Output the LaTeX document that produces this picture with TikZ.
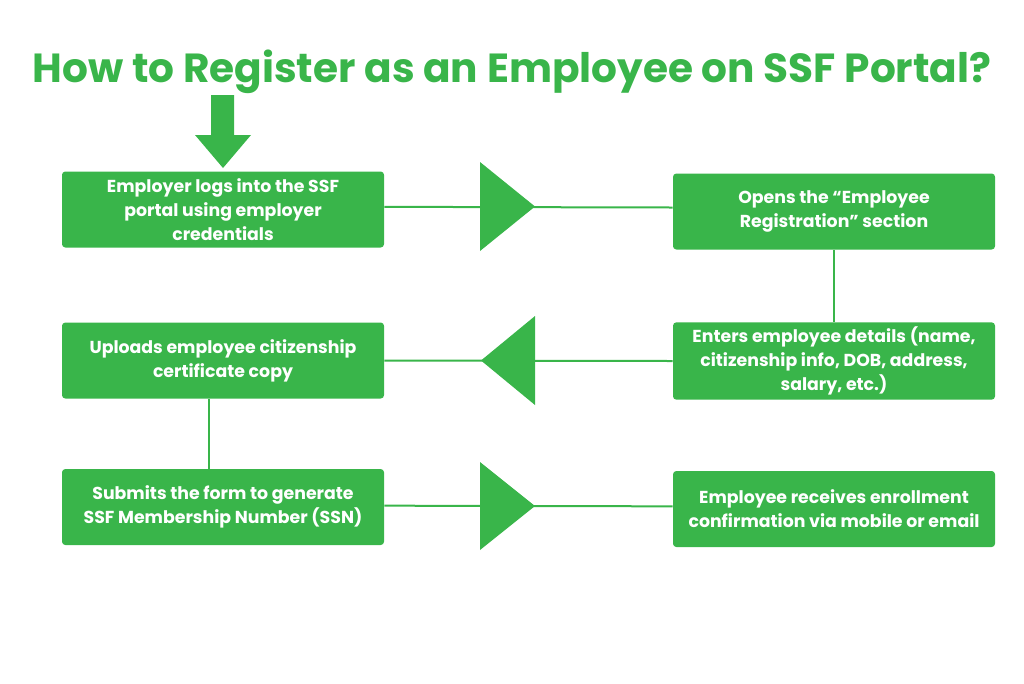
\documentclass[tikz,border=0pt]{standalone}
\usepackage{fontspec}
\setmainfont{Poppins}
\definecolor{ssf}{HTML}{39B54A}
\begin{document}
\begin{tikzpicture}[x=0.75pt,y=-0.75pt,
  box/.style={fill=ssf,rounded corners=2.5pt,minimum width=241.5pt,minimum height=57pt,align=center,text=white,font=\fontsize{13}{18}\selectfont\bfseries},
  con/.style={draw=ssf,line width=1.5pt},
  tri/.style={fill=ssf}]
\useasboundingbox (0,0) rectangle (1024,683);
\node[text=ssf,font=\bfseries] (title) at (512,72) {\resizebox{719pt}{!}{How to Register as an Employee on SSF Portal?}};
\fill[ssf] (211,95) -- (234,95) -- (234,135) -- (251,135) -- (223,168) -- (195,135) -- (211,135) -- cycle;
\node[box] (b1) at (223,209.5) {Employer logs into the SSF\\portal using employer\\credentials};
\node[box] (b2) at (834,211.5) {Opens the “Employee\\Registration” section};
\node[box] (b3) at (834,361) {Enters employee details (name,\\citizenship info, DOB, address,\\salary, etc.)};
\node[box] (b4) at (223,360.5) {Uploads employee citizenship\\certificate copy};
\node[box] (b5) at (223,507) {Submits the form to generate\\SSF Membership Number (SSN)};
\node[box] (b6) at (834,509) {Employee receives enrollment\\confirmation via mobile or email};
\draw[con] ([yshift=2pt]b1.east) -- ([yshift=3pt]b2.west);
\draw[con] (b2.south) -- (b3.north);
\draw[con] (b3.west) -- (b4.east);
\draw[con] ([xshift=-10.5pt]b4.south) -- ([xshift=-10.5pt]b5.north);
\draw[con] ([yshift=1pt]b5.east) -- ([yshift=2pt]b6.west);
\fill[tri] (480,162) -- (535,206.5) -- (480,251) -- cycle;
\fill[tri] (535,316) -- (481,360.5) -- (535,405) -- cycle;
\fill[tri] (480,462) -- (535,506) -- (480,550) -- cycle;
\end{tikzpicture}
\end{document}
